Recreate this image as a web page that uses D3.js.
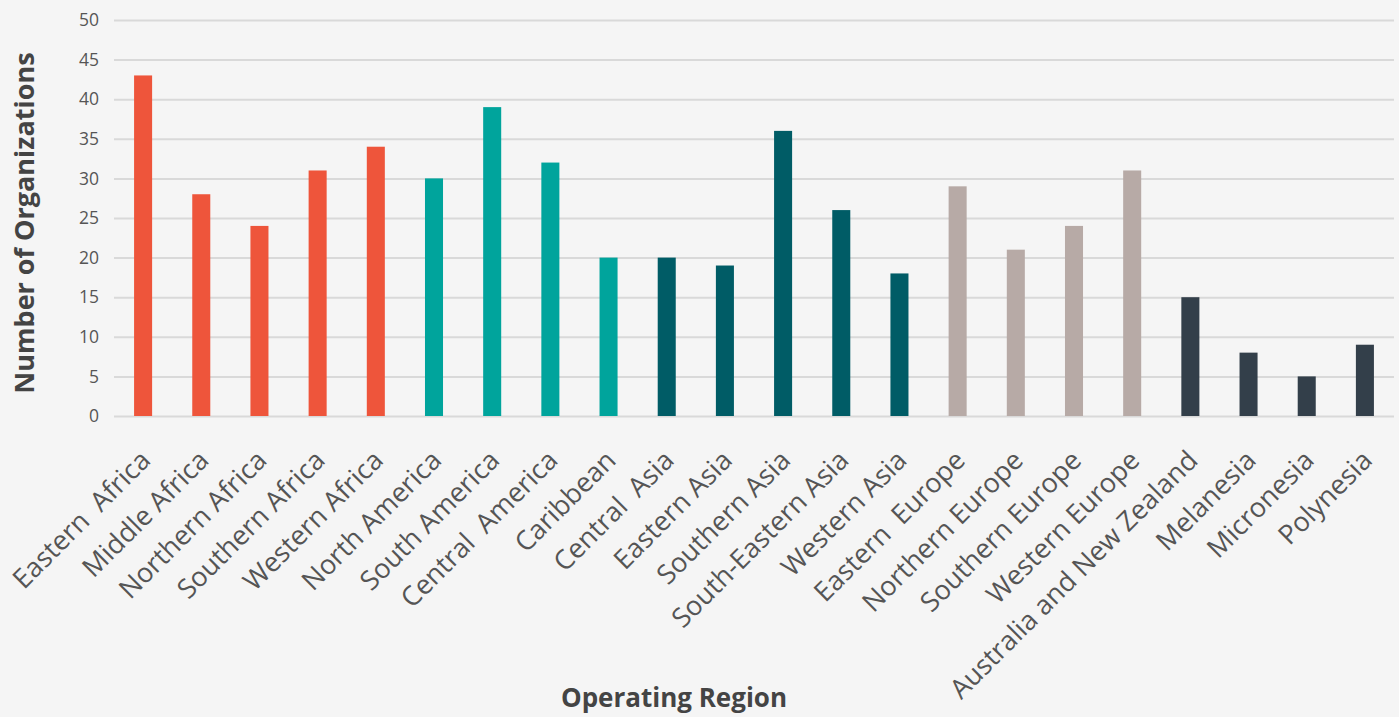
<!DOCTYPE html>
<html>
<head>
<meta charset="utf-8">
<script src="https://cdnjs.cloudflare.com/ajax/libs/d3/7.8.5/d3.min.js"></script>
<style>
  html, body { margin: 0; padding: 0; background: #f5f5f5; }
  svg { display: block; font-family: "Open Sans", "Noto Sans", sans-serif; }
  .xlab { white-space: pre; }
</style>
</head>
<body>
<svg id="mainsvg"></svg>
<script>
// chart data
const regions = ["Eastern  Africa", "Middle Africa", "Northern Africa", "Southern Africa", "Western Africa",
    "North America", "South America", "Central  America", "Caribbean",
    "Central  Asia", "Eastern Asia", "Southern Asia", "South-Eastern Asia", "Western Asia",
    "Eastern  Europe", "Northern Europe", "Southern Europe", "Western Europe",
    "Australia and New Zealand", "Melanesia", "Micronesia", "Polynesia"];
const counts = [43, 28, 24, 31, 34,
    30, 39, 32, 20,
    20, 19, 36, 26, 18,
    29, 21, 24, 31,
    15, 8, 5, 9];
const continents = ["Africa", "Africa", "Africa", "Africa", "Africa",
    "Americas", "Americas", "Americas", "Americas",
    "Asia", "Asia", "Asia", "Asia", "Asia",
    "Europe", "Europe", "Europe", "Europe",
    "Oceania", "Oceania", "Oceania", "Oceania"];
const continentNames = ["Africa", "Americas", "Asia", "Europe", "Oceania"];
const continentColors = ["#ee553b", "#00a49c", "#005c66", "#b7aaa6", "#333f4a"];
const yTicks = [0, 5, 10, 15, 20, 25, 30, 35, 40, 45, 50];

let svgWidth = 1399,
    svgHeight = 717,
    margin = {top: 20, right: 5, bottom: 301, left: 114},
    width = svgWidth - margin.left - margin.right,
    height = svgHeight - margin.top - margin.bottom;

let mainsvg = d3.select("#mainsvg").attr("width", svgWidth).attr("height", svgHeight);
mainsvg.append("rect").attr("width", svgWidth).attr("height", svgHeight).attr("fill", "#f5f5f5");

let data = regions.map((r, i) => ({region: r, count: counts[i], continent: continents[i]}));

let scaleX = d3.scaleBand().domain(regions).range([0, width]).paddingInner(0.69).paddingOuter(0.345),
    scaleY = d3.scaleLinear().domain([0, 50]).range([height, 0]),
    scaleColor = d3.scaleOrdinal().domain(continentNames).range(continentColors);

let mainGroup = mainsvg.append("g").attr("transform", `translate(${margin.left}, ${margin.top})`);

// gridlines + y labels
let yAxis = mainGroup.append("g")
    .attr("class", "axis axis--y")
    .call(d3.axisLeft(scaleY).tickValues(yTicks).tickSize(-width).tickPadding(15));
yAxis.attr("font-family", null).attr("font-size", null);
yAxis.select(".domain").remove();
yAxis.selectAll(".tick line").attr("stroke", "#d9d9d9").attr("stroke-width", 2);
yAxis.selectAll(".tick text")
    .attr("fill", "#555")
    .style("font-size", "17.5px");

// bars
mainGroup.append("g")
    .selectAll("rect").data(data).enter().append("rect")
    .attr("x", d => scaleX(d.region))
    .attr("y", d => scaleY(d.count))
    .attr("width", scaleX.bandwidth())
    .attr("height", d => scaleY(0) - scaleY(d.count))
    .attr("fill", d => scaleColor(d.continent));

// x labels
let xAxis = mainGroup.append("g")
    .attr("class", "axis axis--x")
    .attr("transform", `translate(0, ${height})`)
    .call(d3.axisBottom(scaleX).tickSize(0).tickPadding(0));
xAxis.attr("font-family", null).attr("font-size", null);
xAxis.select(".domain").remove();
xAxis.selectAll(".tick text")
    .attr("class", "xlab")
    .attr("fill", "#555")
    .style("font-size", "27px")
    .attr("text-anchor", "end")
    .attr("dy", null)
    .attr("y", null)
    .attr("transform", "translate(9, 46) rotate(-45)");

// axis titles
mainsvg.append("text")
    .attr("transform", `translate(34, 223) rotate(-90)`)
    .attr("text-anchor", "middle")
    .attr("fill", "#444")
    .style("font-size", "27px")
    .style("font-weight", "bold")
    .text("Number of Organizations");

mainsvg.append("text")
    .attr("x", 674)
    .attr("y", 707)
    .attr("text-anchor", "middle")
    .attr("fill", "#444")
    .style("font-size", "26px")
    .style("font-weight", "bold")
    .text("Operating Region");
</script>
</body>
</html>
